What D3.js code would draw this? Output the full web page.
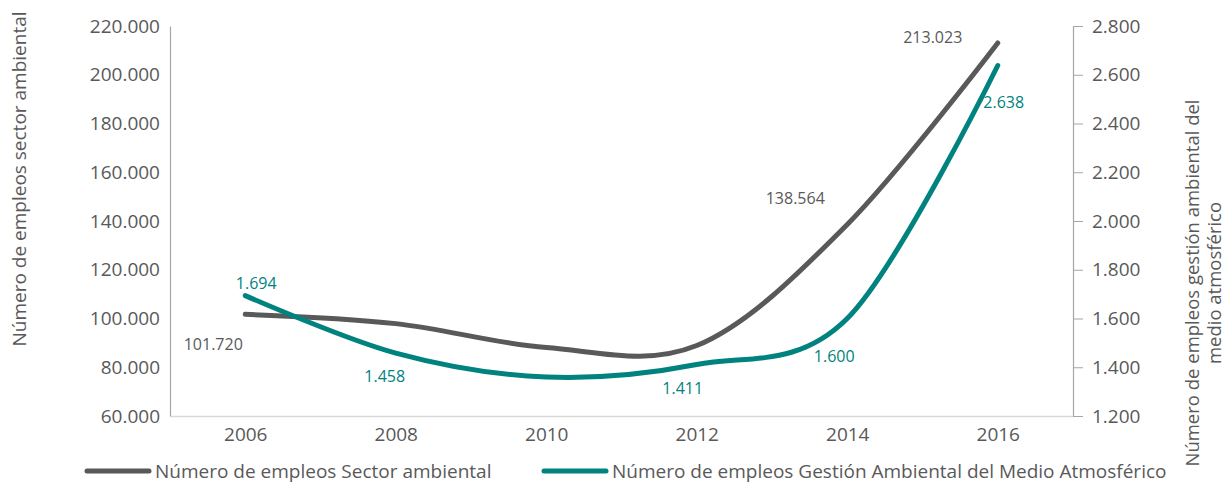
<!DOCTYPE html>
<html>
<head>
<meta charset="utf-8">
<script src="https://cdn.jsdelivr.net/npm/d3@7"></script>
<style>
  body { margin: 0; background: #fff; }
  svg { display: block; font-family: "Open Sans", sans-serif; }
</style>
</head>
<body>
<svg id="chart"></svg>
<script>
// chart data
const years = [2006, 2008, 2010, 2012, 2014, 2016];
const yearTicks = [2006, 2008, 2010, 2012, 2014, 2016];
const sectorJobs = [101720, 97900, 88100, 88900, 138564, 213023];
const atmosJobs = [1694, 1458, 1360, 1411, 1600, 2638];
// which points carry a data label
const sectorLabelled = [2006, 2014, 2016];
const atmosLabelled = [2006, 2008, 2012, 2014, 2016];
const leftTicks = [60000, 80000, 100000, 120000, 140000, 160000, 180000, 200000, 220000];
const rightTicks = [1200, 1400, 1600, 1800, 2000, 2200, 2400, 2600, 2800];
const seriesNames = [
  "Número de empleos Sector ambiental",
  "Número de empleos Gestión Ambiental del Medio Atmosférico"
];

const W = 1227, H = 484;
const plot = { left: 170, right: 1073, top: 26, bottom: 416 };
const grey = "#595959", teal = "#00837f";

const es = d3.formatLocale({ decimal: ",", thousands: ".", grouping: [3], currency: ["", "€"] });
const fmt = es.format(",.0f");

const svg = d3.select("#chart").attr("width", W).attr("height", H);

const x = d3.scaleLinear().domain([2005, 2017]).range([plot.left, plot.right]);
const yL = d3.scaleLinear().domain([60000, 220000]).range([plot.bottom, plot.top]);
const yR = d3.scaleLinear().domain([1200, 2800]).range([plot.bottom, plot.top]);

// bottom axis: baseline only, labels below
const xAxis = svg.append("g")
  .attr("transform", `translate(0,${plot.bottom})`)
  .call(d3.axisBottom(x).tickValues(yearTicks).tickFormat(d3.format("d")).tickSize(0).tickPadding(12));
xAxis.select(".domain").attr("stroke", "#d9d9d9").attr("stroke-width", 1.5);
xAxis.selectAll("text").attr("fill", grey).style("font-size", "19px").attr("font-family", "Open Sans");

// left axis: line without ticks
const leftAxis = svg.append("g")
  .attr("transform", `translate(${plot.left},0)`)
  .call(d3.axisLeft(yL).tickValues(leftTicks).tickFormat(fmt).tickSize(0).tickPadding(10).tickSizeOuter(0));
leftAxis.select(".domain").attr("stroke", "#a6a6a6").attr("stroke-width", 1.2);
leftAxis.selectAll("text").attr("fill", grey).style("font-size", "19px").attr("font-family", "Open Sans");

// right axis with outward ticks
const rightAxis = svg.append("g")
  .attr("transform", `translate(${plot.right},0)`)
  .call(d3.axisRight(yR).tickValues(rightTicks).tickFormat(fmt).tickSize(10).tickPadding(9).tickSizeOuter(0));
rightAxis.select(".domain").attr("stroke", "#a6a6a6").attr("stroke-width", 1.2);
rightAxis.selectAll("line").attr("stroke", "#a6a6a6");
rightAxis.selectAll("text").attr("fill", grey).style("font-size", "19px").attr("font-family", "Open Sans");

// axis titles
svg.append("text")
  .attr("transform", "translate(26,179) rotate(-90)")
  .attr("text-anchor", "middle")
  .attr("fill", grey)
  .style("font-size", "19px")
  .text("Número de empleos sector ambiental");

const rTitle = svg.append("text")
  .attr("transform", "translate(1199,283) rotate(-90)")
  .attr("text-anchor", "middle")
  .attr("fill", grey)
  .style("font-size", "18.5px");
rTitle.append("tspan").attr("x", 0).attr("dy", 0).text("Número de empleos gestión ambiental del");
rTitle.append("tspan").attr("x", 0).attr("dy", 22).text("medio atmosférico");

// series lines
const curve = d3.curveCardinal.tension(0);
const sectorData = years.map((yr, i) => ({ yr, v: sectorJobs[i] }));
const atmosData = years.map((yr, i) => ({ yr, v: atmosJobs[i] }));

svg.append("path")
  .datum(sectorData)
  .attr("fill", "none")
  .attr("stroke", grey)
  .attr("stroke-width", 5)
  .attr("stroke-linecap", "round")
  .attr("d", d3.line().x(d => x(d.yr)).y(d => yL(d.v)).curve(curve));

svg.append("path")
  .datum(atmosData)
  .attr("fill", "none")
  .attr("stroke", teal)
  .attr("stroke-width", 5)
  .attr("stroke-linecap", "round")
  .attr("d", d3.line().x(d => x(d.yr)).y(d => yR(d.v)).curve(curve));

// label offsets relative to their point (label centre)
const sectorOffset = { 2006: [-32, 30], 2014: [-52, -26], 2016: [-65, -6] };
const atmosOffset = { 2006: [11, -12], 2008: [-11, 23], 2012: [-14, 24], 2014: [-13, 38], 2016: [6, 37] };

svg.append("g").selectAll("text")
  .data(sectorData.filter(d => sectorLabelled.includes(d.yr)))
  .join("text")
  .attr("x", d => x(d.yr) + sectorOffset[d.yr][0])
  .attr("y", d => yL(d.v) + sectorOffset[d.yr][1])
  .attr("dy", "0.35em")
  .attr("text-anchor", "middle")
  .attr("fill", grey)
  .style("font-size", "16px")
  .text(d => fmt(d.v));

svg.append("g").selectAll("text")
  .data(atmosData.filter(d => atmosLabelled.includes(d.yr)))
  .join("text")
  .attr("x", d => x(d.yr) + atmosOffset[d.yr][0])
  .attr("y", d => yR(d.v) + atmosOffset[d.yr][1])
  .attr("dy", "0.35em")
  .attr("text-anchor", "middle")
  .attr("fill", teal)
  .style("font-size", "16px")
  .text(d => fmt(d.v));

// legend
const legendX = [87, 544];
const legend = svg.append("g").attr("transform", "translate(0,471)");
const items = legend.selectAll("g")
  .data(seriesNames)
  .join("g")
  .attr("transform", (d, i) => `translate(${legendX[i]},0)`);
items.append("line")
  .attr("x1", 0).attr("x2", 62)
  .attr("stroke", (d, i) => i === 0 ? grey : teal)
  .attr("stroke-width", 5)
  .attr("stroke-linecap", "round");
items.append("text")
  .attr("x", 68)
  .attr("dy", "0.35em")
  .attr("fill", grey)
  .style("font-size", "19px")
  .text(d => d);
</script>
</body>
</html>
